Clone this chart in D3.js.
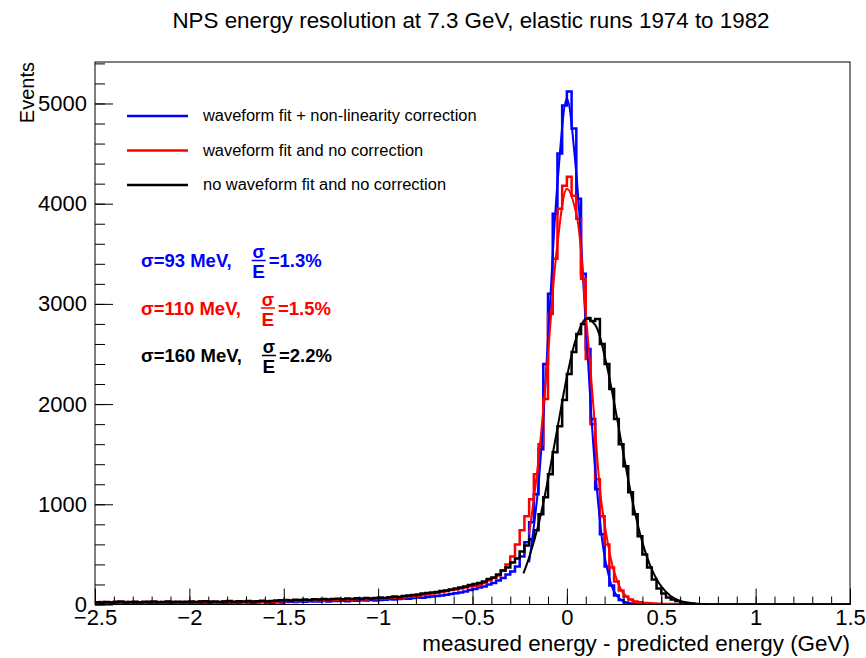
<!DOCTYPE html>
<html>
<head>
<meta charset="utf-8">
<script src="https://cdnjs.cloudflare.com/ajax/libs/d3/7.8.5/d3.min.js"></script>
<style>
  body { margin: 0; background: #fff; }
  svg { display: block; font-family: "Liberation Sans", Arial, Helvetica, sans-serif; }
</style>
</head>
<body>
<div id="chart"></div>
<script>
// histogram binning: 160 bins of 25 MeV from -2.5 to 1.5 GeV
const binLow = -2.5;
const binWidth = 0.025;

// waveform fit + non-linearity correction
const blueCounts = [
  12, 15, 10, 14, 18, 13, 11, 16, 14, 12, 17, 13, 15, 19, 14, 12, 16, 18, 15, 13,
  17, 20, 16, 18, 14, 19, 21, 17, 15, 20, 18, 22, 19, 16, 21, 24, 20, 18, 23, 21,
  25, 28, 24, 30, 27, 33, 29, 31, 35, 30, 36, 34, 38, 33, 40, 37, 42, 39, 44, 41,
  45, 48, 52, 50, 56, 60, 58, 65, 70, 68, 75, 80, 85, 90, 98, 105, 112, 120, 130, 145,
  155, 170, 180, 200, 215, 240, 265, 300, 330, 380, 480, 620, 820, 1100, 1550, 2400, 3100, 3900, 4500, 4980,
  5120, 4750, 4050, 3300, 2550, 1850, 1150, 700, 380, 190, 90, 45, 20, 10, 5, 2, 1, 0, 0, 0,
  0, 0, 0, 0, 0, 0, 0, 0, 0, 0, 0, 0, 0, 0, 0, 0, 0, 0, 0, 0,
  0, 0, 0, 0, 0, 0, 0, 0, 0, 0, 0, 0, 0, 0, 0, 0, 0, 0, 0, 0
];

// waveform fit and no correction
const redCounts = [
  20, 25, 18, 22, 28, 19, 24, 21, 26, 23, 20, 27, 22, 25, 19, 28, 24, 21, 26, 23,
  25, 22, 29, 24, 27, 21, 26, 30, 23, 25, 28, 24, 31, 27, 29, 26, 33, 28, 30, 35,
  32, 38, 35, 40, 37, 42, 39, 44, 41, 46, 43, 48, 45, 50, 47, 52, 55, 50, 58, 56,
  60, 58, 64, 70, 66, 72, 80, 78, 85, 95, 100, 110, 115, 125, 135, 145, 150, 160, 170, 180,
  185, 195, 215, 240, 265, 290, 340, 400, 480, 600, 740, 880, 1050, 1300, 1600, 2050, 2900, 3450, 3950, 4180,
  4270, 4080, 3850, 3250, 2450, 1800, 1250, 880, 600, 370, 230, 140, 80, 50, 30, 22, 15, 12, 10, 8,
  6, 5, 5, 4, 3, 2, 1, 0, 0, 0, 0, 0, 0, 0, 0, 0, 0, 0, 0, 0,
  0, 0, 0, 0, 0, 0, 0, 0, 0, 0, 0, 0, 0, 0, 0, 0, 0, 0, 0, 0
];

// no waveform fit and no correction
const blackCounts = [
  22, 18, 26, 20, 24, 29, 21, 25, 28, 23, 27, 24, 30, 22, 26, 31, 25, 28, 24, 27,
  30, 26, 29, 33, 27, 31, 25, 29, 34, 28, 32, 30, 35, 29, 33, 38, 31, 36, 40, 42,
  45, 40, 48, 44, 50, 46, 52, 49, 55, 51, 54, 58, 52, 60, 56, 62, 58, 65, 60, 64,
  70, 65, 72, 80, 76, 85, 90, 95, 100, 110, 115, 120, 125, 135, 140, 150, 160, 170, 180, 195,
  205, 215, 230, 255, 270, 300, 340, 370, 420, 460, 530, 590, 650, 740, 900, 1070, 1300, 1520, 1780, 2040,
  2300, 2520, 2700, 2800, 2860, 2830, 2850, 2600, 2400, 2150, 1850, 1600, 1380, 1120, 900, 680, 500, 370, 250, 160,
  110, 70, 50, 35, 22, 15, 9, 5, 3, 1, 0, 0, 0, 0, 0, 0, 0, 0, 0, 0,
  0, 0, 0, 0, 0, 0, 0, 0, 0, 0, 0, 0, 0, 0, 0, 0, 0, 0, 0, 0
];

// gaussian fit curves (GeV, events)
const blueFitX = [-0.2, -0.15, -0.1, -0.05, 0, 0.05, 0.1, 0.15, 0.2, 0.25, 0.3, 0.35];
const blueFitY = [420, 1200, 2650, 4200, 5050, 4300, 2800, 1350, 480, 130, 30, 5];
const redFitX = [-0.2, -0.15, -0.1, -0.05, 0, 0.05, 0.1, 0.125, 0.15, 0.175, 0.2, 0.25, 0.3, 0.35, 0.4, 0.45];
const redFitY = [700, 1450, 2500, 3600, 4150, 3900, 2900, 2350, 1750, 1150, 800, 330, 110, 35, 10, 3];
const blackFitX = [-0.23, -0.2, -0.15, -0.1, -0.05, 0, 0.05, 0.1, 0.15, 0.2, 0.25, 0.3, 0.35, 0.4, 0.45, 0.5, 0.55, 0.6, 0.65, 0.7, 0.75];
const blackFitY = [310, 470, 800, 1250, 1760, 2270, 2660, 2850, 2790, 2480, 2020, 1500, 1010, 620, 350, 180, 85, 36, 14, 5, 2];

const seriesNames = [
  "waveform fit + non-linearity correction",
  "waveform fit and no correction",
  "no waveform fit and no correction"
];
const seriesColors = ["#0000ff", "#ff0000", "#000000"];

// resolution labels: sigma text, sigma/E value
const sigmaLabels = ["σ=93 MeV,", "σ=110 MeV,", "σ=160 MeV,"];
const relLabels = ["=1.3%", "=1.5%", "=2.2%"];

const xTicks = [-2.5, -2, -1.5, -1, -0.5, 0, 0.5, 1, 1.5];
const yTicks = [0, 1000, 2000, 3000, 4000, 5000];

const titleText = "NPS energy resolution at 7.3 GeV, elastic runs 1974 to 1982";
const xTitle = "measured energy - predicted energy (GeV)";
const yTitle = "Events";

// ---------------------------------------------------------------
const W = 866, H = 658;
const frame = { left: 95, right: 850, top: 62, bottom: 604.5 };

const svg = d3.select("#chart").append("svg")
  .attr("width", W).attr("height", H);

svg.append("rect").attr("width", W).attr("height", H).attr("fill", "#fff");

const x = d3.scaleLinear().domain([-2.5, 1.5]).range([frame.left, frame.right]);
const y = d3.scaleLinear().domain([0, 5414]).range([frame.bottom, frame.top]);

// shrink/grow a text so it spans a given width
function fitWidth(sel, target) {
  const size = parseFloat(sel.attr("font-size"));
  const len = sel.node().getComputedTextLength();
  sel.attr("font-size", (size * target / len).toFixed(2));
}

svg.append("defs").append("clipPath").attr("id", "plotClip")
  .append("rect")
  .attr("x", frame.left).attr("y", frame.top)
  .attr("width", frame.right - frame.left)
  .attr("height", frame.bottom - frame.top);

// title
svg.append("text")
  .attr("x", 471).attr("y", 28)
  .attr("text-anchor", "middle")
  .attr("font-size", 18)
  .attr("fill", "#000")
  .text(titleText)
  .call(fitWidth, 597);

// histograms as step outlines
function stepPath(counts) {
  const p = d3.path();
  p.moveTo(x(binLow), y(0));
  counts.forEach((c, i) => {
    const lo = binLow + i * binWidth;
    p.lineTo(x(lo), y(c));
    p.lineTo(x(lo + binWidth), y(c));
  });
  p.lineTo(x(binLow + counts.length * binWidth), y(0));
  return p.toString();
}

const plot = svg.append("g").attr("clip-path", "url(#plotClip)");

[blueCounts, redCounts, blackCounts].forEach((counts, i) => {
  plot.append("path")
    .attr("d", stepPath(counts))
    .attr("fill", "none")
    .attr("stroke", seriesColors[i])
    .attr("stroke-width", 2.5)
    .attr("stroke-linejoin", "miter");
});

// fit curves
const fitLine = d3.line()
  .x((d) => x(d[0]))
  .y((d) => y(d[1]))
  .curve(d3.curveCatmullRom);

[[blueFitX, blueFitY], [redFitX, redFitY], [blackFitX, blackFitY]].forEach(([fx, fy], i) => {
  plot.append("path")
    .attr("d", fitLine(fx.map((v, j) => [v, fy[j]])))
    .attr("fill", "none")
    .attr("stroke", seriesColors[i])
    .attr("stroke-width", 2);
});

// frame
svg.append("rect")
  .attr("x", frame.left).attr("y", frame.top)
  .attr("width", frame.right - frame.left)
  .attr("height", frame.bottom - frame.top)
  .attr("fill", "none")
  .attr("stroke", "#000")
  .attr("stroke-width", 1);

const fmt = (v) => (v < 0 ? "\u2212" : "") + Math.abs(v);

// x axis: minor then major ticks, pointing into the frame
svg.append("g")
  .attr("transform", `translate(0,${frame.bottom})`)
  .call(d3.axisBottom(x).ticks(40).tickSize(-8).tickFormat(""))
  .call((g) => g.select(".domain").remove());

svg.append("g")
  .attr("transform", `translate(0,${frame.bottom})`)
  .call(d3.axisBottom(x).tickValues(xTicks).tickSize(-16).tickPadding(5).tickFormat(fmt))
  .call((g) => g.select(".domain").remove())
  .call((g) => g.selectAll("text")
    .attr("font-size", 22)
    .attr("font-family", "Liberation Sans, Arial, sans-serif")
    .attr("fill", "#000"));

// y axis
svg.append("g")
  .attr("transform", `translate(${frame.left},0)`)
  .call(d3.axisLeft(y).tickValues(d3.range(0, 5401, 200)).tickSize(-10).tickFormat(""))
  .call((g) => g.select(".domain").remove());

svg.append("g")
  .attr("transform", `translate(${frame.left},0)`)
  .call(d3.axisLeft(y).tickValues(yTicks).tickSize(-18).tickPadding(8).tickFormat(fmt))
  .call((g) => g.select(".domain").remove())
  .call((g) => g.selectAll("text")
    .attr("font-size", 22)
    .attr("font-family", "Liberation Sans, Arial, sans-serif")
    .attr("fill", "#000"));

svg.selectAll(".tick line").attr("stroke", "#000");

// axis titles
svg.append("text")
  .attr("x", frame.right).attr("y", 651)
  .attr("text-anchor", "end")
  .attr("font-size", 20)
  .text(xTitle)
  .call(fitWidth, 428);

svg.append("text")
  .attr("transform", `translate(34,${frame.top}) rotate(-90)`)
  .attr("text-anchor", "end")
  .attr("font-size", 20)
  .text(yTitle);

// legend
const legend = svg.append("g").attr("class", "legend");
seriesNames.forEach((name, i) => {
  const ly = 116 + i * 34.5;
  legend.append("line")
    .attr("x1", 127).attr("x2", 188)
    .attr("y1", ly).attr("y2", ly)
    .attr("stroke", seriesColors[i])
    .attr("stroke-width", 2.5);
  const t = legend.append("text")
    .attr("x", 203).attr("y", ly + 5)
    .attr("font-size", 15)
    .text(name);
  if (i === 0) t.call(fitWidth, 274);
});
const legendSize = legend.select("text").attr("font-size");
legend.selectAll("text").attr("font-size", legendSize);

// resolution annotations with sigma/E fractions
const notes = svg.append("g").attr("font-weight", "bold");
sigmaLabels.forEach((lab, i) => {
  const base = 267 + i * 47.5;
  const col = seriesColors[i];
  const t1 = notes.append("text")
    .attr("x", 141).attr("y", base)
    .attr("font-size", 18.5)
    .attr("fill", col)
    .text(lab);
  const fx = 141 + t1.node().getComputedTextLength() + 20;
  notes.append("text")
    .attr("x", fx + 7).attr("y", base - 9)
    .attr("text-anchor", "middle")
    .attr("font-size", 18)
    .attr("fill", col)
    .text("σ");
  notes.append("line")
    .attr("x1", fx).attr("x2", fx + 14)
    .attr("y1", base - 6.5).attr("y2", base - 6.5)
    .attr("stroke", col)
    .attr("stroke-width", 1.5);
  notes.append("text")
    .attr("x", fx + 7).attr("y", base + 11)
    .attr("text-anchor", "middle")
    .attr("font-size", 19)
    .attr("fill", col)
    .text("E");
  notes.append("text")
    .attr("x", fx + 17).attr("y", base)
    .attr("font-size", 18.5)
    .attr("fill", col)
    .text(relLabels[i]);
});
</script>
</body>
</html>
